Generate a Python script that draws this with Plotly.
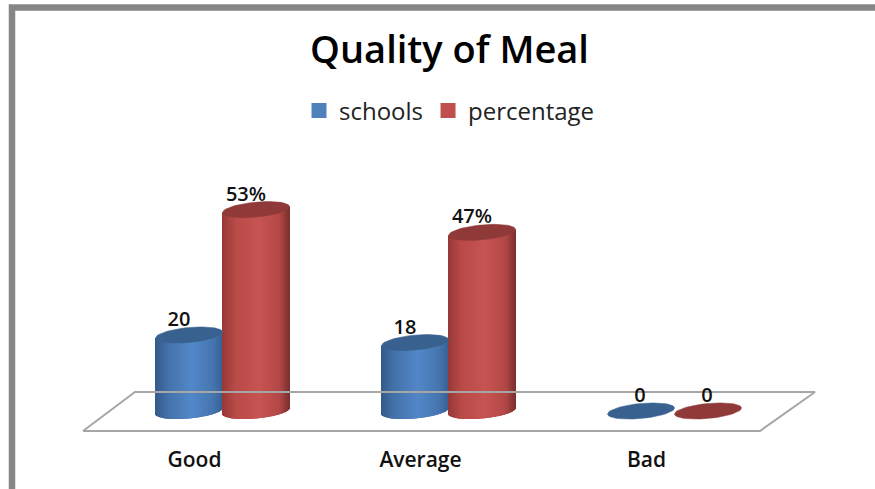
import math
import plotly.graph_objects as go

categories = ["Good", "Average", "Bad"]
schools = [20, 18, 0]
percentage = [53, 47, 0]
school_labels = ["20", "18", "0"]
percentage_labels = ["53%", "47%", "0"]

W, H = 875, 489
BOTTOM = 44
PX_X = 226.0          # px per category
PX_Y = 3.8            # px per value unit
ZERO_X = 222.5        # px of first category
ZERO_Y = 411.0        # px of value 0
PLOT_H = H - BOTTOM
x_range = [-ZERO_X / PX_X, (W - ZERO_X) / PX_X]
y_range = [(ZERO_Y - PLOT_H) / PX_Y, ZERO_Y / PX_Y]

A = 33.5 / PX_X       # radius in category units
B = 7.5 / PX_Y        # ellipse half-height in value units
K = 3.0 / PX_Y        # ellipse tilt
N = 67
TICK_SHIFT = 28 / PX_X


def lerp_color(stops, t):
    for (t0, c0), (t1, c1) in zip(stops, stops[1:]):
        if t <= t1:
            f = (t - t0) / (t1 - t0)
            return "rgb(%d,%d,%d)" % tuple(round(a + (b - a) * f) for a, b in zip(c0, c1))
    return "rgb(%d,%d,%d)" % stops[-1][1]


BLUE = [(0, (50, 90, 136)), (0.2, (68, 114, 170)), (0.55, (82, 135, 200)), (0.85, (70, 118, 178)), (1, (56, 98, 150))]
RED = [(0, (150, 56, 54)), (0.2, (184, 74, 72)), (0.55, (198, 84, 82)), (0.85, (180, 72, 70)), (1, (125, 48, 46))]
BLUE_CAP = "#38618f"
RED_CAP = "#8f3a38"


def cylinder_traces(values, offset, stops, cap):
    xs, bases, hs, cols = [], [], [], []
    for i, v in enumerate(values):
        if v <= 0:
            continue
        for j in range(N):
            u = -1 + (2 * j + 1) / N
            xs.append(i + offset + u * A)
            bottom = -B * math.sqrt(max(0, 1 - u * u)) + K * u
            bases.append(bottom)
            hs.append(v + K * u - bottom)
            cols.append(lerp_color(stops, (u + 1) / 2))
    out = [go.Bar(x=xs, y=hs, base=bases, width=2 * A / N, marker=dict(color=cols, line_width=0),
                  showlegend=False, hoverinfo="skip")]
    for i, v in enumerate(values):
        ex, ey = [], []
        for d in range(0, 361, 6):
            t = math.radians(d)
            ex.append(i + offset + A * math.cos(t))
            ey.append(v + B * math.sin(t) + K * math.cos(t))
        out.append(go.Scatter(x=ex, y=ey, mode="lines", fill="toself", fillcolor=cap,
                              line=dict(color=cap, width=0.5), showlegend=False, hoverinfo="skip"))
    return out


fig = go.Figure()

# floor of the 3D chart
fl_x = [(p - ZERO_X) / PX_X for p in (83, 135, 815, 760, 83)]
fl_y = [(ZERO_Y - p) / PX_Y for p in (431, 392, 392, 431, 431)]
fig.add_trace(go.Scatter(x=fl_x, y=fl_y, mode="lines", line=dict(color="#a6a6a6", width=2),
                         showlegend=False, hoverinfo="skip"))

for tr in cylinder_traces(schools, -A, BLUE, BLUE_CAP):
    fig.add_trace(tr)
for tr in cylinder_traces(percentage, A, RED, RED_CAP):
    fig.add_trace(tr)

LABEL_FONT = dict(family="Open Sans", size=20, color="#111111", weight=600)
LBL_UP = 14 / PX_Y
for values, labels, off in ((schools, school_labels, -A), (percentage, percentage_labels, A)):
    fig.add_trace(go.Scatter(
        x=[i + off - ((10 if v > 0 else 1) / PX_X) for i, v in enumerate(values)],
        y=[v + LBL_UP for v in values],
        text=labels, mode="text", textposition="middle center",
        textfont=LABEL_FONT, showlegend=False, hoverinfo="skip"))

# legend entries
for name, col in (("schools", "#4f81bd"), ("percentage", "#c0504d")):
    fig.add_trace(go.Scatter(x=[None], y=[None], mode="markers", name=name,
                             marker=dict(symbol="square", size=15, color=col)))


def py(p):
    return 1 - p / PLOT_H


fig.update_layout(
    width=W, height=H,
    margin=dict(l=0, r=0, t=0, b=BOTTOM, autoexpand=False),
    paper_bgcolor="white", plot_bgcolor="white",
    barmode="overlay",
    title=dict(text="Quality of Meal", x=449.5 / W, xanchor="center", y=1 - 50 / H, yanchor="middle",
               xref="container", yref="container",
               font=dict(family="Open Sans", size=38, color="black", weight=600)),
    legend=dict(orientation="h", x=299 / W, xanchor="left", xref="paper", yref="paper",
                y=py(111), yanchor="middle", bgcolor="rgba(0,0,0,0)", tracegroupgap=0,
                font=dict(family="Open Sans", size=24, color="#222222", weight=500)),
    xaxis=dict(range=x_range, tickvals=[i - TICK_SHIFT for i in range(len(categories))], ticktext=categories,
               showgrid=False, zeroline=False, showline=False, ticks="", fixedrange=True,
               tickfont=dict(family="Open Sans", size=21, color="#111111", weight=600)),
    yaxis=dict(range=y_range, visible=False, showgrid=False, zeroline=False, fixedrange=True),
    shapes=[dict(type="path", xref="paper", yref="paper",
                 path="M %f,%f L %f,%f L %f,%f" % (12 / W, py(489), 12 / W, py(7.5), 1, py(7.5)),
                 line=dict(color="#868686", width=6.5))],
)

fig.write_html("out.html", config={"displayModeBar": False},
               post_script="document.body.style.margin='0';document.body.style.overflow='hidden';")
